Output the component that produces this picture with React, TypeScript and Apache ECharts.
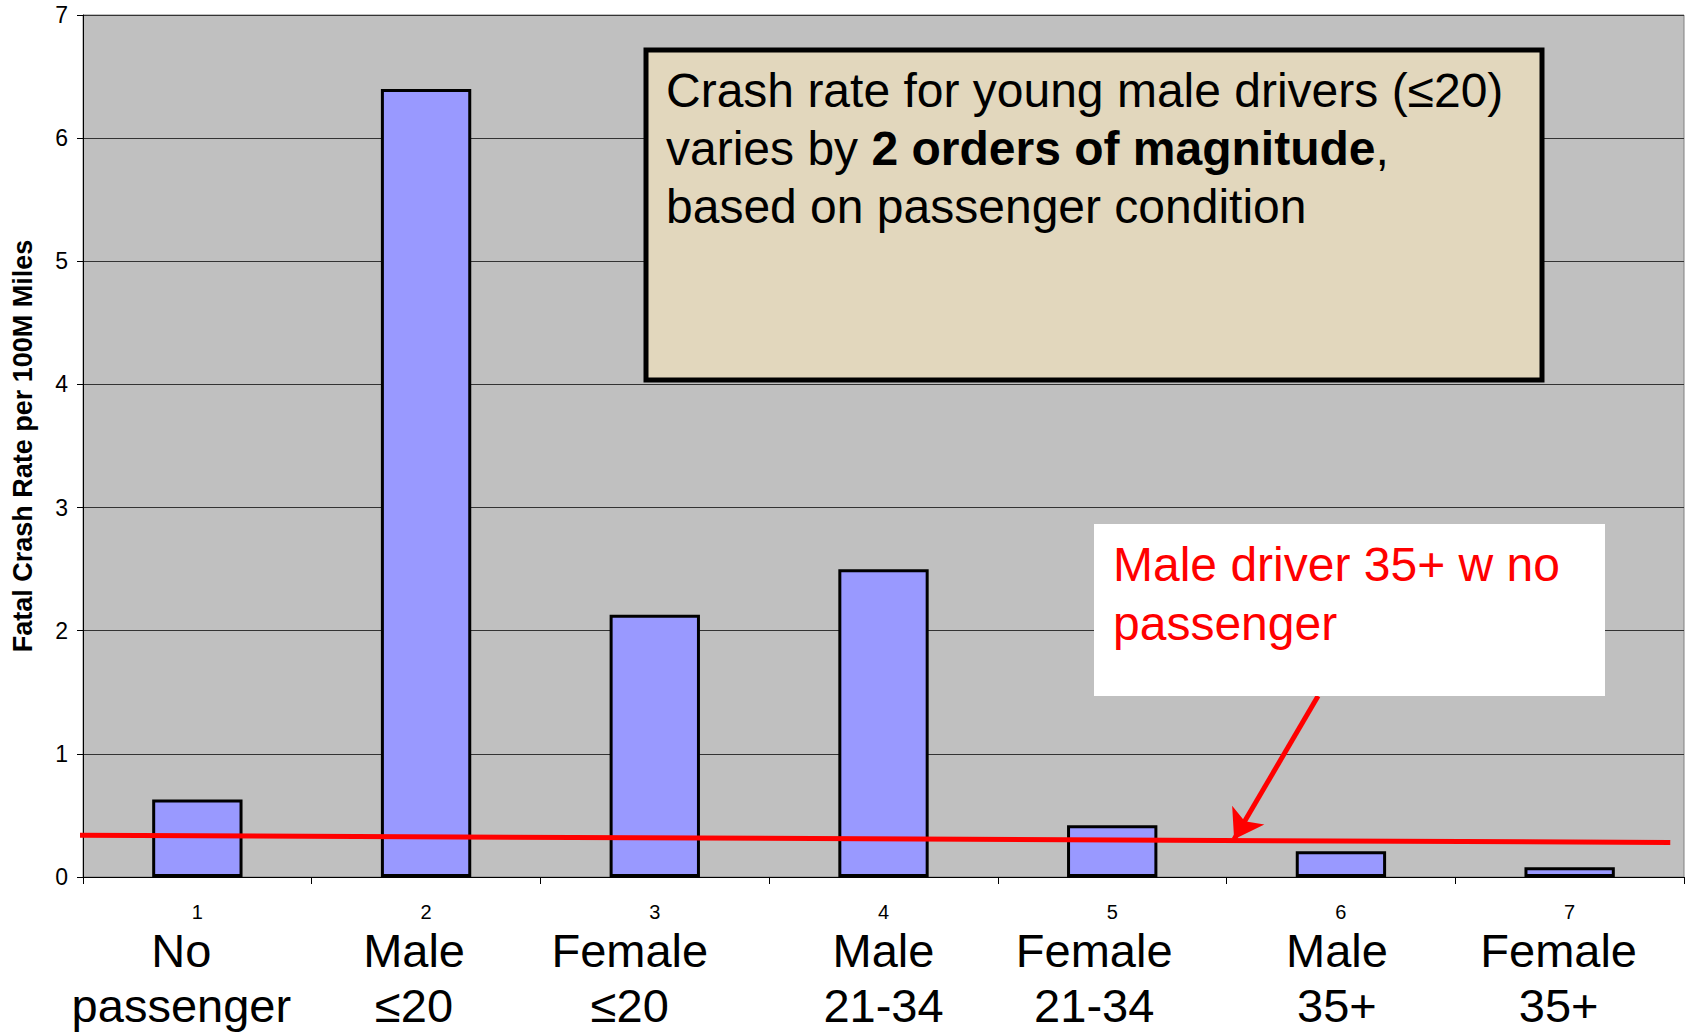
import React, { useEffect, useRef } from 'react';
import * as echarts from 'echarts';

const tickNumbers = ['1', '2', '3', '4', '5', '6', '7'];
const groupLine1 = ['No', 'Male', 'Female', 'Male', 'Female', 'Male', 'Female'];
const groupLine2 = ['passenger', '≤20', '≤20', '21-34', '21-34', '35+', '35+'];
const crashRates = [0.63, 6.4, 2.13, 2.5, 0.42, 0.21, 0.08];

// reference line for "Male driver 35+ w no passenger" (x in category units, y in rate)
const baselineX = [0.48, 7.44];
const baselineY = [0.34, 0.28];
// arrow from annotation to the line
const arrowX = [5.9, 5.533];
const arrowY = [1.47, 0.306];

// style: leftward nudge (px) of each two-line group label, as in the original slide
const labelNudge = [16, 12, 25, 0, 18, 4, 11];

const FONT = "'Liberation Sans', Arial, sans-serif";

export default function App() {
  const ref = useRef<HTMLDivElement>(null);
  useEffect(() => {
    if (!ref.current) return;
    const chart = echarts.init(ref.current, undefined, { renderer: 'svg' });
    const rich: Record<string, any> = {
      n: { fontSize: 20, lineHeight: 22, color: '#000', fontFamily: FONT },
    };
    labelNudge.forEach((d, i) => {
      rich['l' + i] = {
        fontSize: 47,
        lineHeight: 55,
        color: '#000',
        fontFamily: FONT,
        padding: [0, d * 2, 0, 0],
      };
    });
    const option = {
      animation: false,
      backgroundColor: '#FFFFFF',
      textStyle: { fontFamily: FONT },
      grid: {
        left: 83,
        top: 15,
        right: 3,
        bottom: 156,
        show: true,
        containLabel: false,
        outerBoundsMode: 'none',
        backgroundColor: '#C0C0C0',
        borderColor: '#808080',
        borderWidth: 1,
      },
      xAxis: [
        {
          type: 'category',
          data: tickNumbers,
          boundaryGap: true,
          axisLine: { show: true, lineStyle: { color: '#000', width: 1 } },
          axisTick: { show: true, length: 7, lineStyle: { color: '#000' } },
          splitLine: { show: false },
          axisLabel: {
            interval: 0,
            margin: 24,
            color: '#000',
            formatter: (_v: string, i: number) =>
              `{n|${tickNumbers[i]}}\n{l${i}|${groupLine1[i]}}\n{l${i}|${groupLine2[i]}}`,
            rich,
          },
        },
        { type: 'value', min: 0.5, max: 7.5, show: false },
      ],
      yAxis: {
        type: 'value',
        min: 0,
        max: 7,
        interval: 1,
        name: 'Fatal Crash Rate per 100M Miles',
        nameLocation: 'middle',
        nameGap: 47,
        nameRotate: 90,
        nameTextStyle: { fontSize: 27, fontWeight: 'bold', color: '#000', fontFamily: FONT },
        axisLine: { show: true, lineStyle: { color: '#000', width: 1 } },
        axisTick: { show: true, length: 6, lineStyle: { color: '#000' } },
        axisLabel: { fontSize: 23, color: '#000', margin: 15, fontFamily: FONT },
        splitLine: { show: true, lineStyle: { color: '#333333', width: 1 } },
      },
      series: [
        {
          type: 'bar',
          data: crashRates,
          barWidth: '39.5%',
          xAxisIndex: 0,
          itemStyle: { color: '#9999FF', borderColor: '#000', borderWidth: 3 },
        },
        {
          type: 'line',
          xAxisIndex: 1,
          data: baselineX.map((x, i) => [x, baselineY[i]]),
          symbol: 'none',
          clip: false,
          z: 5,
          lineStyle: { color: '#FF0000', width: 5 },
        },
        {
          type: 'lines',
          coordinateSystem: 'cartesian2d',
          xAxisIndex: 1,
          yAxisIndex: 0,
          z: 6,
          symbol: ['none', 'arrow'],
          symbolSize: [0, 28],
          lineStyle: { color: '#FF0000', width: 5, opacity: 1 },
          data: [{ coords: arrowX.map((x, i) => [x, arrowY[i]]) }],
        },
      ],
      graphic: [
        {
          type: 'rect',
          z: 10,
          shape: { x: 646, y: 50, width: 896, height: 330 },
          style: { fill: '#E2D7BD', stroke: '#000', lineWidth: 5 },
        },
        {
          type: 'text',
          z: 11,
          x: 666,
          y: 61,
          style: {
            text: 'Crash rate for young male drivers (≤20)\nvaries by {b|2 orders of magnitude},\nbased on passenger condition',
            fontSize: 48,
            fontFamily: FONT,
            fill: '#000',
            lineHeight: 58,
            verticalAlign: 'top',
            rich: {
              b: { fontSize: 48, fontFamily: FONT, fontWeight: 'bold', fill: '#000', lineHeight: 58 },
            },
          },
        },
        {
          type: 'rect',
          z: 10,
          shape: { x: 1094, y: 524, width: 511, height: 172 },
          style: { fill: '#FFFFFF' },
        },
        {
          type: 'text',
          z: 11,
          x: 1113,
          y: 535,
          style: {
            text: 'Male driver 35+ w no\npassenger',
            fontSize: 48,
            fontFamily: FONT,
            fill: '#FF0000',
            lineHeight: 59,
            verticalAlign: 'top',
          },
        },
      ],
    };
    chart.setOption(option as any);
    return () => chart.dispose();
  }, []);
  return (
    <div
      ref={ref}
      style={{ position: 'fixed', left: 0, top: 0, width: 1687, height: 1033 }}
    />
  );
}
